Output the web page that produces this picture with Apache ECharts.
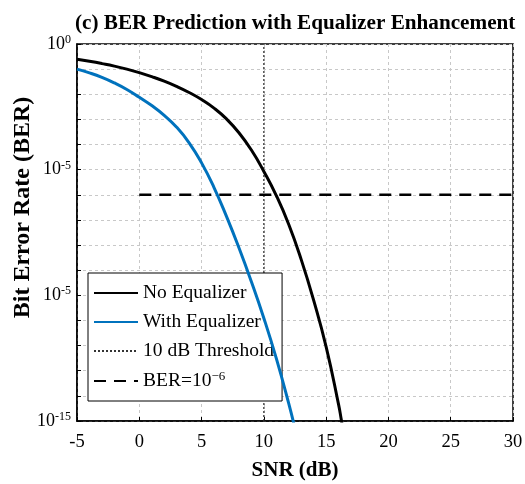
<!DOCTYPE html>
<html>
<head>
<meta charset="utf-8">
<script src="https://cdn.jsdelivr.net/npm/echarts@6/dist/echarts.min.js"></script>
<style>
  html, body { margin: 0; padding: 0; background: #fff; }
  #chart { width: 525px; height: 484px; }
</style>
</head>
<body>
<div id="chart"></div>
<script>
// SNR points (dB) and log10(BER)
var snrNoEq = [-5, -4, -3, -2, -1, 0, 1, 2, 3, 4, 5, 6, 7, 8, 9, 10, 11, 12, 13, 14, 15, 16, 16.2, 16.4];
var expNoEq = [-0.61, -0.69, -0.78, -0.88, -1.0, -1.14, -1.3, -1.48, -1.69, -1.93, -2.21, -2.55, -2.98, -3.53, -4.22, -5.07, -6.03, -7.18, -8.58, -10.2, -12.05, -14.35, -14.9, -15.5];

var snrEq = [-5, -4, -3, -2, -1, 0, 1, 2, 3, 4, 5, 6, 7, 8, 9, 10, 11, 12, 12.5];
var expEq = [-1.0, -1.15, -1.33, -1.55, -1.81, -2.12, -2.45, -2.84, -3.31, -3.93, -4.73, -5.71, -6.86, -8.11, -9.46, -10.91, -12.51, -14.31, -15.3];

var thresholdSnr = 10;
var berTarget = 1e-6;
var berTargetRange = [0, 30];

var xTicks = [-5, 0, 5, 10, 15, 20, 25, 30];
// tick labels as printed in the figure (the third one really reads 10^-5)
var yTickExps = [0, -5, -10, -15];
var yTickLabels = ['10{s|0}', '10{s|-5}', '10{s|-5}', '10{s|-15}'];

var serif = '"Liberation Serif", "Times New Roman", serif';

function toPairs(xs, exps) {
	var out = [];
	for (var i = 0; i < xs.length; i++) out.push([xs[i], Math.pow(10, exps[i])]);
	return out;
}

var chart = echarts.init(document.getElementById('chart'));
var option = {
	animation: false,
	title: {
		text: '(c) BER Prediction with Equalizer Enhancement',
		left: 70,
		top: 8,
		textStyle: { fontFamily: serif, fontSize: 21.2, fontWeight: 'bold', color: '#000' }
	},
	grid: {
		left: 77, right: 12, top: 44, bottom: 63,
		outerBoundsMode: 'none',
		containLabel: false,
		show: true, borderColor: '#000', borderWidth: 1.5, backgroundColor: '#fff'
	},
	legend: {
		orient: 'vertical',
		left: 88, top: 273,
		backgroundColor: '#fff',
		borderColor: '#000', borderWidth: 1,
		borderRadius: 0,
		padding: [10, 8, 10, 5],
		itemWidth: 44, itemHeight: 14, itemGap: 9,
		itemStyle: { opacity: 0 },
		textStyle: {
			fontFamily: serif, fontSize: 19.5, color: '#000',
			rich: { s: { fontFamily: serif, fontSize: 13, verticalAlign: 'top', padding: [0, 0, 9, 0] } }
		},
		formatter: function(name) {
			if (name === 'BER=10^-6') return 'BER=10{s|−6}';
			return name;
		},
		data: ['No Equalizer', 'With Equalizer', '10 dB Threshold', 'BER=10^-6']
	},
	xAxis: {
		type: 'value',
		min: -5, max: 30, interval: 5,
		name: 'SNR (dB)',
		nameLocation: 'middle',
		nameGap: 39,
		nameMoveOverlap: false,
		nameTextStyle: { fontFamily: serif, fontSize: 21, fontWeight: 'bold', color: '#000' },
		axisLine: { onZero: false, lineStyle: { color: '#000', width: 1.5 } },
		axisTick: { inside: true, length: 4, lineStyle: { color: '#000' } },
		axisLabel: {
			fontFamily: serif, fontSize: 18.5, color: '#000', margin: 12,
			formatter: function(v) { return xTicks.indexOf(v) >= 0 ? String(v) : ''; }
		},
		splitLine: { show: true, lineStyle: { color: '#c8c8c8', type: [3, 3], width: 1 } }
	},
	yAxis: {
		type: 'log',
		logBase: 10,
		min: 1e-15, max: 1,
		interval: 1,
		name: 'Bit Error Rate (BER)',
		nameLocation: 'middle',
		nameGap: 42,
		nameMoveOverlap: false,
		nameTextStyle: { fontFamily: serif, fontSize: 24, fontWeight: 'bold', color: '#000', padding: [0, 0, 0, 50] },
		axisLine: { onZero: false, lineStyle: { color: '#000', width: 1.5 } },
		axisTick: { inside: true, length: 4, lineStyle: { color: '#000' } },
		axisLabel: {
			fontFamily: serif, fontSize: 18, color: '#000', margin: 6,
			rich: { s: { fontFamily: serif, fontSize: 12, verticalAlign: 'top', padding: [0, 0, 8, 0] } },
			formatter: function(v) {
				var e = Math.round(Math.log(v) / Math.LN10);
				var k = yTickExps.indexOf(e);
				return k >= 0 ? yTickLabels[k] : '';
			}
		},
		splitLine: { show: true, lineStyle: { color: '#c8c8c8', type: [3, 3], width: 1 } }
	},
	series: [{
		name: 'No Equalizer',
		type: 'line',
		data: toPairs(snrNoEq, expNoEq),
		smooth: 0.5,
		showSymbol: false, symbol: 'none',
		lineStyle: { color: '#000', width: 3 },
		itemStyle: { color: '#000' },
		z: 4
	}, {
		name: 'With Equalizer',
		type: 'line',
		data: toPairs(snrEq, expEq),
		smooth: 0.5,
		showSymbol: false, symbol: 'none',
		lineStyle: { color: '#0072BD', width: 3 },
		itemStyle: { color: '#0072BD' },
		z: 4
	}, {
		name: '10 dB Threshold',
		type: 'line',
		data: [[thresholdSnr, 1e-15], [thresholdSnr, 1]],
		showSymbol: false, symbol: 'none',
		lineStyle: { color: '#333', width: 1.3, type: [2, 2] },
		itemStyle: { color: '#333' },
		z: 3
	}, {
		name: 'BER=10^-6',
		type: 'line',
		data: [[berTargetRange[0], berTarget], [berTargetRange[1], berTarget]],
		showSymbol: false, symbol: 'none',
		lineStyle: { color: '#000', width: 2.5, type: [12, 8] },
		itemStyle: { color: '#000' },
		z: 3
	}]
};
chart.setOption(option);
</script>
</body>
</html>
